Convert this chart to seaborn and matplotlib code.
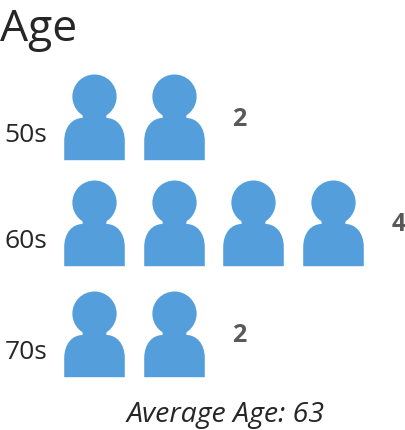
# Age pictogram: one person icon per respondent

import seaborn as sns
import matplotlib.pyplot as plt
import pandas as pd
from matplotlib.path import Path

age_groups = ['50s', '60s', '70s']
counts = [2, 4, 2]
title = 'Age'
footer = 'Average Age: 63'

BLUE = '#549fdb'
W, H = 406, 431
ICON_LEFT, ICON_STEP = 94, 79.7
ROW_CENTERS = [118, 223.5, 334.5]

sns.set_style("white")
plt.rcParams['font.family'] = ['Open Sans', 'DejaVu Sans']


def person_marker():
    # head circle plus shoulders, in picture pixels around the icon centre
    head = Path.circle((0, 21), 22.3)
    body = Path(
        [(-30.5, -43), (30.5, -43), (30.5, -24), (30.5, -9), (22, -0.5),
         (12, -0.5), (12, 6), (-12, 6), (-12, -0.5), (-22, -0.5), (-30.5, -9),
         (-30.5, -24), (-30.5, -43)],
        [Path.MOVETO, Path.LINETO, Path.LINETO, Path.CURVE4, Path.CURVE4,
         Path.CURVE4, Path.LINETO, Path.LINETO, Path.LINETO, Path.CURVE4,
         Path.CURVE4, Path.CURVE4, Path.CLOSEPOLY])
    return Path.make_compound_path(head, body)


marker = person_marker()
icon_size = (86 * 72 / 100) ** 2

fig = plt.figure(figsize=(W / 100, H / 100), dpi=100)

for group, n, center in zip(age_groups, counts, ROW_CENTERS):
    ax = fig.add_axes([0, 1 - (center + 50) / H, 1, 100 / H])
    row = pd.DataFrame({'icon': range(n), 'row': [0] * n})
    sns.scatterplot(data=row, x='icon', y='row', marker=marker, s=icon_size,
                    color=BLUE, linewidth=0, clip_on=False, legend=False, ax=ax)
    ax.set_xlim(-ICON_LEFT / ICON_STEP, (W - ICON_LEFT) / ICON_STEP)
    ax.set_ylim(-50, 50)
    ax.axis('off')
    ax.text(-1.12, -18, group, fontsize=19, color='#262626', ha='left', va='center')
    ax.text(n - 0.18, -1.5, str(n), fontsize=18, fontweight='bold', color='#595959',
            ha='center', va='center')

fig.text(0, 1 - 30 / H, title, fontsize=32, color='#262626', ha='left', va='center')
fig.text(226 / W, 1 - 415 / H, footer, fontsize=20.5, style='italic', color='#262626',
         ha='center', va='center')

fig.savefig('out.png', dpi=100)
